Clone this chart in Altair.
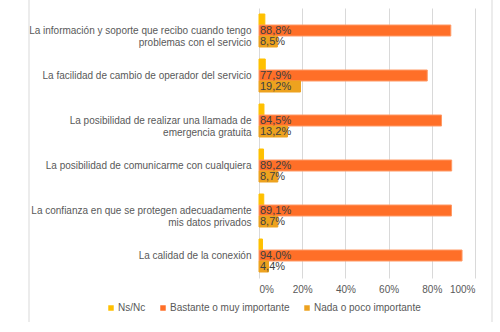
import altair as alt
import pandas as pd

categories = [
    ["La información y soporte que recibo cuando tengo", "problemas con el servicio"],
    ["La facilidad de cambio de operador del servicio"],
    ["La posibilidad de realizar una llamada de", "emergencia gratuita"],
    ["La posibilidad de comunicarme con cualquiera"],
    ["La confianza en que se protegen adecuadamente", "mis datos privados"],
    ["La calidad de la conexión"],
]
series = ["Ns/Nc", "Bastante o muy importante", "Nada o poco importante"]
ns_nc = [2.7, 2.9, 2.3, 2.1, 2.2, 1.6]
bastante = [88.8, 77.9, 84.5, 89.2, 89.1, 94.0]
nada = [8.5, 19.2, 13.2, 8.7, 8.7, 4.4]
colors = ["#FFC000", "#FF6F28", "#EDA21F"]
x_ticks = [0, 20, 40, 60, 80, 100]

keys = ["|".join(c) for c in categories]
rows = []
for i, k in enumerate(keys):
    for s, vals in zip(series, [ns_nc, bastante, nada]):
        v = vals[i]
        rows.append({
            "cat": k,
            "serie": s,
            "value": v,
            "label": "" if s == "Ns/Nc" else f"{v:.1f}".replace(".", ",") + "%",
        })
df = pd.DataFrame(rows)

font = "Liberation Sans"
gray = "#595959"

y_enc = alt.Y(
    "cat:N",
    sort=keys,
    title=None,
    scale=alt.Scale(paddingInner=12 / 45, paddingOuter=6 / 45),
    axis=alt.Axis(
        labelExpr="split(datum.value, '|')",
        labelFont=font,
        labelFontSize=10,
        labelColor=gray,
        labelPadding=8,
        labelLimit=400,
        labelLineHeight=12,
        ticks=False,
        domain=False,
        grid=False,
    ),
)
yoff = alt.YOffset("serie:N", sort=series, scale=alt.Scale(paddingInner=0, paddingOuter=0))
x_enc = alt.X(
    "value:Q",
    title=None,
    scale=alt.Scale(domain=[0, 100], nice=False),
    axis=alt.Axis(
        values=x_ticks,
        labelExpr="datum.value + '%'",
        labelFont=font,
        labelFontSize=10,
        labelColor=gray,
        labelPadding=6,
        ticks=False,
        domain=False,
        grid=True,
        gridColor="#D9D9D9",
    ),
)

bars = alt.Chart(df).mark_bar(size=11).encode(
    x=x_enc,
    y=y_enc,
    yOffset=yoff,
    color=alt.Color(
        "serie:N",
        sort=series,
        scale=alt.Scale(domain=series, range=colors),
        legend=alt.Legend(
            title=None,
            orient="none",
            direction="horizontal",
            legendX=-153,
            legendY=295,
            symbolType="square",
            symbolSize=30,
            symbolStrokeWidth=0,
            labelFont=font,
            labelFontSize=10,
            labelColor=gray,
            columnPadding=12,
            labelOffset=2,
        ),
    ),
    stroke=alt.Stroke(
        "serie:N",
        sort=series,
        scale=alt.Scale(domain=series, range=["#FFC000", "#FF9A66", "#EDA21F"]),
        legend=None,
    ),
)

labels = alt.Chart(df).mark_text(
    align="left", baseline="middle", dx=1, font=font, fontSize=11, color="#404040"
).encode(
    x=alt.datum(0),
    y=alt.Y("cat:N", sort=keys),
    yOffset=alt.YOffset("serie:N", sort=series),
    text="label:N",
)

frame_left = alt.Chart(pd.DataFrame({"s": [0]})).mark_rule(color="#D9D9D9").encode(
    x=alt.value(-230), y=alt.value(-8), y2=alt.value(314)
)
frame_right = alt.Chart(pd.DataFrame({"s": [0]})).mark_rule(color="#D9D9D9").encode(
    x=alt.value(233), y=alt.value(-8), y2=alt.value(314)
)

chart = (
    alt.layer(bars, labels, frame_left, frame_right)
    .properties(
        width=216,
        height=270,
        padding={"left": 259, "top": 8, "right": 25, "bottom": 54},
        autosize=alt.AutoSizeParams(type="none"),
        background="white",
    )
    .configure_view(stroke=None)
)

chart.save("out.html", embed_options={"renderer": "svg", "actions": False})
